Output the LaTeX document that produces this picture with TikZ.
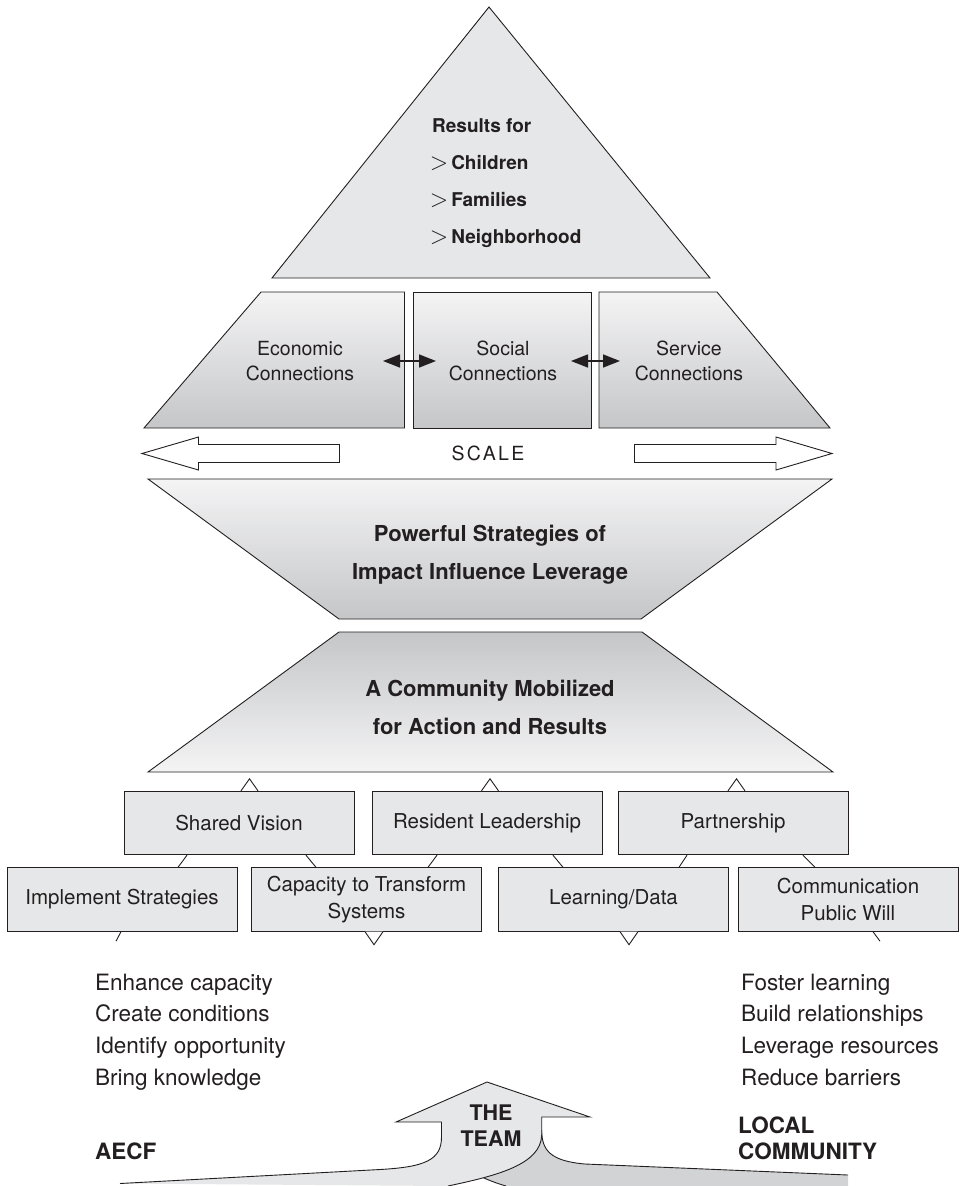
\documentclass[tikz,border=0pt]{standalone}
\usepackage{fontspec}
\setmainfont{TeX Gyre Heros}
\newfontfamily\gtfont{latinmodern-math.otf}
\usetikzlibrary{arrows.meta}
\definecolor{boxgray}{HTML}{E6E7E8}
\definecolor{streamgray}{HTML}{D2D3D5}
\definecolor{shadelight}{HTML}{F4F4F5}
\definecolor{shadedark}{HTML}{C5C6C8}
\definecolor{inkline}{HTML}{231F20}
\newcommand{\gtmark}{{\gtfont\fontsize{23}{22}\selectfont >}\,}
\begin{document}
\begin{tikzpicture}[x=1pt,y=-1pt,
  every node/.style={text=inkline,inner sep=0pt},
  outline/.style={draw=inkline,line width=0.9pt},
  fadedown/.style={outline,top color=shadelight,bottom color=shadedark},
  fadeup/.style={outline,top color=shadedark,bottom color=shadelight},
  resline/.style={anchor=base west,font=\fontsize{19}{22}\selectfont\bfseries},
  conntext/.style={align=center,font=\fontsize{19.5}{25}\selectfont},
  bigtext/.style={align=center,font=\fontsize{22}{38.5}\selectfont\bfseries},
  actbox/.style={outline,fill=boxgray,minimum width=230pt,minimum height=63.5pt,
    align=center,font=\fontsize{20.5}{27}\selectfont},
  link/.style={draw=inkline,line width=0.9pt},
  notch/.style={draw=inkline,line width=0.9pt,fill=white},
  widearrow/.style={draw=inkline,line width=0.9pt,fill=white},
  linkarrow/.style={draw=inkline,line width=1.5pt,
    {Triangle[length=17pt,width=13pt]}-{Triangle[length=17pt,width=13pt]}},
  listline/.style={anchor=base west,font=\fontsize{22.5}{26}\selectfont},
  teamlabel/.style={anchor=base west,font=\fontsize{22.5}{26}\selectfont\bfseries}]
 \useasboundingbox (0,0) rectangle (961,1186);

 % results
 \draw[outline,fill=boxgray] (272,278) -- (489,7) -- (710,278) -- cycle;
 \node[resline] (res1) at (432,132) {Results for};
 \node[resline] (res2) at (430,169) {\gtmark Children};
 \node[resline] (res3) at (430,206) {\gtmark Families};
 \node[resline] (res4) at (430,243) {\gtmark Neighborhood};

 % connections
 \draw[fadedown] (144,428) -- (261,292) -- (404.5,292) -- (404.5,428) -- cycle;
 \draw[fadedown] (413,292) rectangle (591,428);
 \draw[fadedown] (599,292) -- (717,292) -- (830,428) -- (599,428) -- cycle;
 \node[conntext] (econ) at (300,361) {Economic\\Connections};
 \node[conntext] (social) at (503,361) {Social\\Connections};
 \node[conntext] (service) at (689,361) {Service\\Connections};
 \coordinate (econtip) at (383,361);
 \coordinate (socleft) at (436,361);
 \coordinate (socright) at (571,361);
 \coordinate (servtip) at (620,361);
 \draw[linkarrow] (econtip) -- (socleft);
 \draw[linkarrow] (socright) -- (servtip);

 % scale
 \draw[widearrow] (339.5,444.5) -- (198.5,444.5) -- (198.5,437) -- (142,453.5)
   -- (198.5,470) -- (198.5,462.5) -- (339.5,462.5) -- cycle;
 \draw[widearrow] (634.5,444.5) -- (776,444.5) -- (776,437) -- (832,453.5)
   -- (776,470) -- (776,462.5) -- (634.5,462.5) -- cycle;
 \node[font=\fontsize{19.5}{24}\selectfont\addfontfeatures{LetterSpace=12}] (scale) at (488,453.5) {SCALE};

 % strategies and community
 \draw[fadedown] (148,479) -- (832,479) -- (641,619) -- (339,619) -- cycle;
 \node[bigtext] (strat) at (490,554.5) {Powerful Strategies of\\Impact Influence Leverage};
 \draw[fadeup] (339,632) -- (642,632) -- (833,772) -- (148,772) -- cycle;
 \node[bigtext] (mobil) at (490,707.5) {A Community Mobilized\\for Action and Results};

 % first row
 \node[actbox] (vision) at (239,823) {Shared Vision};
 \node[actbox] (leader) at (487,823) {Resident Leadership};
 \node[actbox] (partner) at (733,823) {Partnership};
 \draw[notch] ([xshift=10.5pt]vision.north) +(-8.5,0) -- +(0,-12) -- +(8.5,0);
 \draw[notch] ([xshift=3pt]leader.north) +(-8.5,0) -- +(0,-12) -- +(8.5,0);
 \draw[notch] ([xshift=3.5pt]partner.north) +(-8.5,0) -- +(0,-12) -- +(8.5,0);

 % second row
 \node[actbox] (implement) at (122,899.5) {Implement Strategies};
 \node[actbox] (capacity) at (366.5,899.5) {Capacity to Transform\\Systems};
 \node[actbox] (learning) at (613.5,899.5) {Learning/Data};
 \node[actbox,minimum width=220pt] (commun) at (848,899.5) {Communication\\Public Will};
 \draw[link] ([xshift=-52pt]vision.south) -- ([xshift=56pt]implement.north);
 \draw[link] ([xshift=67pt]vision.south) -- ([xshift=-50.5pt]capacity.north);
 \draw[link] ([xshift=-50pt]leader.south) -- ([xshift=61.5pt]capacity.north);
 \draw[link] ([xshift=66pt]leader.south) -- ([xshift=-50.5pt]learning.north);
 \draw[link] ([xshift=-46pt]partner.south) -- ([xshift=65.5pt]learning.north);
 \draw[link] ([xshift=70pt]partner.south) -- ([xshift=-33pt]commun.north);
 \draw[notch] ([xshift=7.5pt]capacity.south) +(-9,0) -- +(0,13) -- +(9,0);
 \draw[notch] ([xshift=15.5pt]learning.south) +(-9,0) -- +(0,13) -- +(9,0);
 \draw[link] ([xshift=-1pt]implement.south) -- +(-5,9.5);
 \draw[link] ([xshift=25pt]commun.south) -- +(7,9.5);

 % what each side brings
 \node[listline] (enhance) at (95,990) {Enhance capacity};
 \node[listline] (create) at (95,1021.7) {Create conditions};
 \node[listline] (identify) at (95,1053.3) {Identify opportunity};
 \node[listline] (bring) at (95,1085) {Bring knowledge};
 \node[listline] (foster) at (741,990) {Foster learning};
 \node[listline] (build) at (741,1021.7) {Build relationships};
 \node[listline] (leverage) at (741,1053.3) {Leverage resources};
 \node[listline] (reduce) at (741,1085) {Reduce barriers};

 % the team arrow
 \fill[streamgray] (848,1175) -- (585,1164) .. controls (550,1161) and (541.7,1150) .. (541.7,1130)
   -- (470,1140) -- (470,1170) .. controls (478,1176) and (492,1182) .. (506,1186) -- (848,1186) -- cycle;
 \draw[outline] (848,1175) -- (585,1164) .. controls (550,1161) and (541.7,1150) .. (541.7,1130);
 \draw[outline] (470,1170) .. controls (478,1176) and (492,1182) .. (506,1186);
 \draw[outline,fill=boxgray] (120,1183.5) -- (380,1169.5) .. controls (425,1167) and (441.5,1160) .. (441.5,1137)
   -- (441.5,1122) -- (396,1122) -- (487,1082) -- (590,1117) -- (541.7,1117) -- (541.7,1135)
   .. controls (541,1165) and (495,1176) .. (448,1186);
 \node[align=center,font=\fontsize{21.5}{25.5}\selectfont\bfseries] (team) at (491,1125.5) {THE\\TEAM};
 \node[teamlabel] (aecf) at (95,1159.3) {AECF};
 \node[teamlabel] (local) at (738,1133.3) {LOCAL};
 \node[teamlabel] (localcomm) at (738,1159.3) {COMMUNITY};
\end{tikzpicture}
\end{document}
